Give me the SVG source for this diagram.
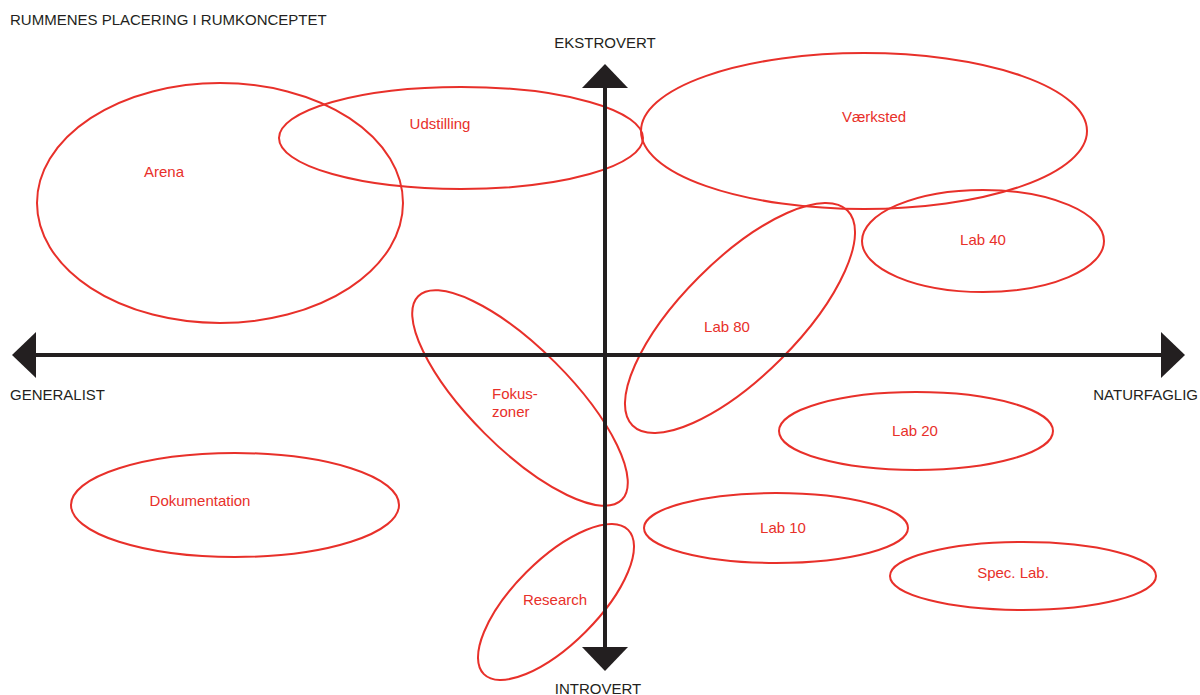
<svg xmlns="http://www.w3.org/2000/svg" width="1200" height="695" viewBox="0 0 1200 695">
<style>
.zone{fill:none;stroke:#e8302a;stroke-width:2}
.lbl{font-family:"Liberation Sans",Arial,sans-serif;font-size:15px;fill:#e8302a;text-anchor:middle}
.ax{font-family:"Liberation Sans",Arial,sans-serif;font-size:15px;fill:#231f20}
.axis{stroke:#231f20;stroke-width:4;fill:none}
</style>
<defs>
<marker id="arr" viewBox="0 0 24 46" refX="1" refY="23" markerWidth="24" markerHeight="46" markerUnits="userSpaceOnUse" orient="auto-start-reverse">
<path d="M0,0 L24,23 L0,46 Z" fill="#231f20"/>
</marker>
</defs>
<rect width="1200" height="695" fill="#ffffff"/>
<text class="ax" x="10" y="25">RUMMENES PLACERING I RUMKONCEPTET</text>

<g id="arena"><ellipse class="zone" cx="220" cy="203" rx="183" ry="120"/><text class="lbl" x="164" y="177">Arena</text></g>
<g id="udstilling"><ellipse class="zone" cx="461" cy="138" rx="182" ry="51"/><text class="lbl" x="440" y="129">Udstilling</text></g>
<g id="vaerksted"><ellipse class="zone" cx="864" cy="131" rx="223" ry="78"/><text class="lbl" x="874" y="122">Værksted</text></g>
<g id="lab40"><ellipse class="zone" cx="983" cy="241" rx="121" ry="51"/><text class="lbl" x="983" y="245">Lab 40</text></g>
<g id="lab80"><ellipse class="zone" cx="740" cy="318" rx="152" ry="58" transform="rotate(-45 740 318)"/><text class="lbl" x="727" y="332">Lab 80</text></g>
<g id="fokuszoner"><ellipse class="zone" cx="520" cy="398" rx="144" ry="50" transform="rotate(45 520 398)"/><text class="lbl" style="text-anchor:start" x="492" y="399">Fokus-</text><text class="lbl" style="text-anchor:start" x="492" y="417">zoner</text></g>
<g id="lab20"><ellipse class="zone" cx="916" cy="431" rx="137" ry="39"/><text class="lbl" x="915" y="436">Lab 20</text></g>
<g id="dokumentation"><ellipse class="zone" cx="235" cy="505" rx="164" ry="52"/><text class="lbl" x="200" y="506">Dokumentation</text></g>
<g id="lab10"><ellipse class="zone" cx="776" cy="528" rx="132" ry="35"/><text class="lbl" x="783" y="533">Lab 10</text></g>
<g id="speclab"><ellipse class="zone" cx="1023" cy="576" rx="133" ry="34"/><text class="lbl" x="1013" y="578">Spec. Lab.</text></g>
<g id="research"><ellipse class="zone" cx="556" cy="602" rx="102" ry="42" transform="rotate(-45 556 602)"/><text class="lbl" x="555" y="605">Research</text></g>

<g id="axes">
<line class="axis" x1="35" y1="355" x2="1162" y2="355" marker-start="url(#arr)" marker-end="url(#arr)"/>
<line class="axis" x1="605" y1="87" x2="605" y2="648" marker-start="url(#arr)" marker-end="url(#arr)"/>
</g>
<text class="ax" x="605" y="48" text-anchor="middle">EKSTROVERT</text>
<text class="ax" x="598" y="694" text-anchor="middle">INTROVERT</text>
<text class="ax" x="10" y="400">GENERALIST</text>
<text class="ax" x="1198" y="400" text-anchor="end">NATURFAGLIG</text>
</svg>
